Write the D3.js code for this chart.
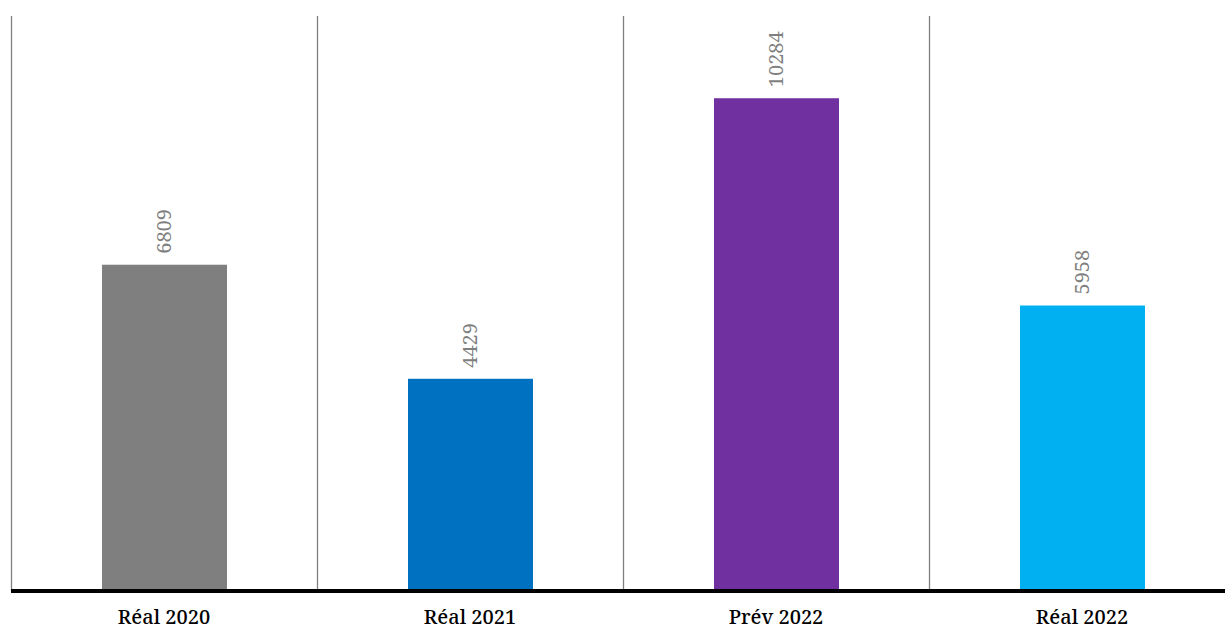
<!DOCTYPE html>
<html><head><meta charset="utf-8">
<script src="https://cdn.jsdelivr.net/npm/d3@7"></script>
<style>body{margin:0;background:#fff}svg{display:block}</style>
</head><body>
<svg id="c" width="1225" height="629"></svg>
<script>
const categories = ["Réal 2020", "Réal 2021", "Prév 2022", "Réal 2022"];
const values = [6809, 4429, 10284, 5958];
const colors = ["#7f7f7f", "#0070c0", "#7030a0", "#00b0f0"];

const svg = d3.select("#c");
const x = d3.scaleBand().domain(categories).range([11, 1235]).paddingInner(0).paddingOuter(0);
const y = d3.scaleLinear().domain([0, 12000]).range([591, 16]);
const bw = 125;
const serif = "'Noto Serif', 'Liberation Serif', serif";

svg.selectAll("line.sep").data(categories).enter().append("line")
  .attr("x1", d => x(d) + 0.5).attr("x2", d => x(d) + 0.5)
  .attr("y1", y(12000)).attr("y2", y(0))
  .attr("stroke", "#808080").attr("stroke-width", 1.3);

svg.selectAll("rect.bar").data(values).enter().append("rect")
  .attr("x", (d, i) => x(categories[i]) + x.bandwidth() / 2 - bw / 2 + 0.5)
  .attr("width", bw)
  .attr("y", d => y(d))
  .attr("height", d => y(0) - y(d))
  .attr("fill", (d, i) => colors[i]);

svg.selectAll("text.val").data(values).enter().append("text")
  .attr("transform", (d, i) => `translate(${x(categories[i]) + x.bandwidth() / 2 + 7},${y(d) - 11}) rotate(-90)`)
  .style("font-family", serif)
  .style("font-size", "20px")
  .attr("fill", "#7f7f7f")
  .text(d => d);

svg.append("line").attr("x1", 11).attr("x2", 1225).attr("y1", y(0)).attr("y2", y(0))
  .attr("stroke", "#000").attr("stroke-width", 4);

const xAxis = d3.axisBottom(x).tickSize(0).tickPadding(19);
const g = svg.append("g").attr("transform", `translate(0,${y(0)})`).call(xAxis);
g.attr("font-family", null).attr("font-size", null);
g.select(".domain").remove();
g.selectAll("text").style("font-family", serif).style("font-size", "20px").style("font-weight", 500).attr("fill", "#000");
</script>
</body></html>
